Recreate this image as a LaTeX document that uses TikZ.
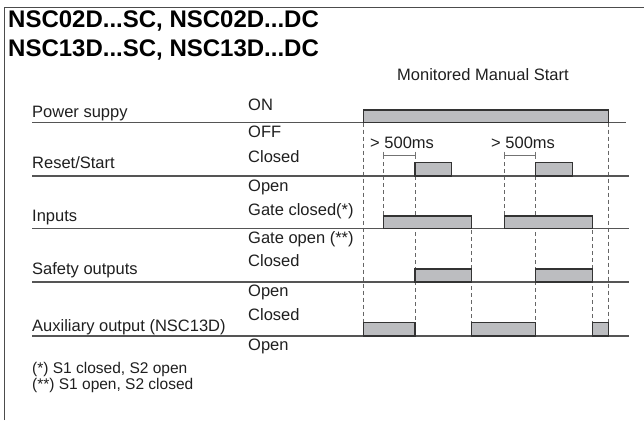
\documentclass[tikz,border=0pt]{standalone}
\usepackage{fontspec}
\setmainfont{Liberation Sans}
\usepackage{tikz}
\usetikzlibrary{backgrounds, calc, positioning}
\definecolor{barfill}{HTML}{BCBDC0}
\definecolor{baredge}{HTML}{333333}
\definecolor{axisline}{HTML}{555555}
\tikzstyle{txt}=[anchor=base west, inner sep=0pt, text=black!88, font=\fontsize{16.5}{19}\selectfont]
\tikzstyle{ttl}=[anchor=base west, inner sep=0pt, font=\fontsize{24}{28}\selectfont\bfseries]
\tikzstyle{note}=[anchor=base west, inner sep=0pt, text=black!88, font=\fontsize{15.5}{18}\selectfont]
\tikzstyle{sig}=[fill=barfill, draw=baredge, line width=1.3pt]
\tikzstyle{axis}=[draw=axisline, line width=1.2pt]
\tikzstyle{guide}=[draw=black!60, dash pattern=on 4pt off 3pt, line width=0.9pt]
\tikzstyle{span}=[draw=black!55, line width=1pt]

\begin{document}
\begin{tikzpicture}[x=1pt, y=-1pt]
		\useasboundingbox (0,0) rectangle (644,420);
		\draw[draw=black!70, line width=1.2pt] (4.5,420) -- (4.5,7.5) -- (644,7.5);

		\node[style=ttl] (t1) at (8,28) {NSC02D...SC, NSC02D...DC};
		\node[style=ttl] (t2) at (8,56.7) {NSC13D...SC, NSC13D...DC};
		\node[style=txt] (mode) at (397,80) {Monitored Manual Start};

		\node[style=txt] (1) at (32,117.5) {Power suppy};
		\node[style=txt] (2) at (32,168.5) {Reset/Start};
		\node[style=txt] (3) at (32,221.5) {Inputs};
		\node[style=txt] (4) at (32,274) {Safety outputs};
		\node[style=txt] (5) at (32,331.5) {Auxiliary output (NSC13D)};

		\node[style=txt] (11) at (248,110) {ON};
		\node[style=txt] (12) at (248,137.5) {OFF};
		\node[style=txt] (21) at (248,162.5) {Closed};
		\node[style=txt] (22) at (248,191.5) {Open};
		\node[style=txt] (31) at (248,215) {Gate closed(*)};
		\node[style=txt] (32) at (248,243.5) {Gate open (**)};
		\node[style=txt] (41) at (248,266.5) {Closed};
		\node[style=txt] (42) at (248,296.5) {Open};
		\node[style=txt] (51) at (248,320.7) {Closed};
		\node[style=txt] (52) at (248,350) {Open};

		\node[style=note] (n1) at (32,373) {(*) S1 closed, S2 open};
		\node[style=note] (n2) at (32,389) {(**) S1 open, S2 closed};

		\draw[style=guide] (363.3,122.7) -- (363.3,322.7);
		\draw[style=guide] (383.3,155) -- (383.3,216);
		\draw[style=guide] (415,155) -- (415,322.7);
		\draw[style=guide] (471.7,216) -- (471.7,322.7);
		\draw[style=guide] (504.3,155) -- (504.3,216);
		\draw[style=guide] (535.7,155) -- (535.7,322.7);
		\draw[style=guide] (592.3,216) -- (592.3,322.7);
		\draw[style=guide] (608.3,122.7) -- (608.3,322.7);

		\draw[style=span] (383.3,155) -- (415,155);
		\draw[style=span] (383.3,151.5) -- (383.3,158.5);
		\draw[style=span] (415,151.5) -- (415,158.5);
		\draw[style=span] (504.3,155) -- (535.7,155);
		\draw[style=span] (504.3,151.5) -- (504.3,158.5);
		\draw[style=span] (535.7,151.5) -- (535.7,158.5);
		\node[style=txt] (d1) at (370,148) {> 500ms};
		\node[style=txt] (d2) at (491,148) {> 500ms};

		\draw[style=axis] (32,122.7) -- (626,122.7);
		\draw[style=axis] (32,176) -- (629,176);
		\draw[style=axis] (32,228.7) -- (629,228.7);
		\draw[style=axis] (32,282) -- (629,282);
		\draw[style=axis] (32,336) -- (629,336);

		\draw[style=sig] (363.3,110) rectangle (608.3,122.7);
		\draw[style=sig] (415,162.7) rectangle (451.7,176);
		\draw[style=sig] (535.7,162.7) rectangle (572.3,176);
		\draw[style=sig] (383.3,216) rectangle (471.7,228.7);
		\draw[style=sig] (504.3,216) rectangle (592.3,228.7);
		\draw[style=sig] (415,269) rectangle (471.7,282);
		\draw[style=sig] (535.7,269) rectangle (592.3,282);
		\draw[style=sig] (363.3,322.7) rectangle (415,336);
		\draw[style=sig] (471.7,322.7) rectangle (535.7,336);
		\draw[style=sig] (592.3,322.7) rectangle (608.3,336);
	\end{tikzpicture}
\end{document}
